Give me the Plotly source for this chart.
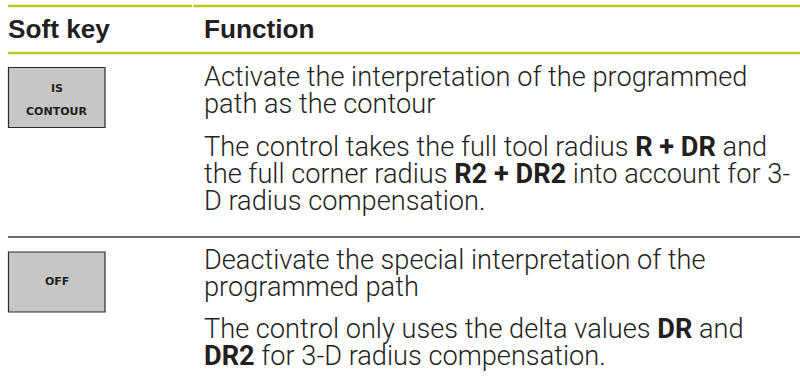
import plotly.graph_objects as go

# ---- table content ----
header_labels = ["Soft key", "Function"]
soft_keys = [["IS", "CONTOUR"], ["OFF"]]
row1_para1 = ["Activate the interpretation of the programmed",
              "path as the contour"]
row1_para2 = ["The control takes the full tool radius <b>R + DR</b> and",
              "the full corner radius <b>R2 + DR2</b> into account for 3-",
              "D radius compensation."]
row2_para1 = ["Deactivate the special interpretation of the",
              "programmed path"]
row2_para2 = ["The control only uses the delta values <b>DR</b> and",
              "<b>DR2</b> for 3-D radius compensation."]

# ---- layout geometry (pixels) ----
W, H = 800, 380
X0, XCOL = 8, 204
GREEN = "#bcc41e"
TXT = "#231f20"
BODY_FONT = dict(family="Roboto", size=27.2, color=TXT, weight=300)
HEAD_FONT = dict(family="Liberation Sans", size=26.2, color=TXT, weight=700)
KEY_FONT = dict(family="DejaVu Sans", size=11, color="#1e1e1e", weight=700)

rows = [
    dict(key=soft_keys[0], key_box=(67.5, 127.5), key_mid=99.8,
         paras=[(row1_para1, 86.7), (row1_para2, 156.7)]),
    dict(key=soft_keys[1], key_box=(252, 312), key_mid=281.5,
         paras=[(row2_para1, 269.3), (row2_para2, 338.3)]),
]
LINE_STEP = 26.6
HEAD_BASE = 37.7
# baseline offset from the centre of the text box (ascent-descent)/2
BODY_K = 0.342
HEAD_K = 0.3465

fig = go.Figure()
fig.add_trace(go.Scatter(x=[0, W], y=[0, H], mode="markers",
                         marker=dict(opacity=0), hoverinfo="skip",
                         showlegend=False))

shapes = []
annotations = []

# header rules
shapes.append(dict(type="line", x0=X0, x1=192, y0=6, y1=6,
                   line=dict(color=GREEN, width=2.5)))
shapes.append(dict(type="line", x0=193.3, x1=W, y0=6, y1=6,
                   line=dict(color=GREEN, width=2.5)))
shapes.append(dict(type="line", x0=X0, x1=W, y0=53, y1=53,
                   line=dict(color=GREEN, width=2.5)))
# row divider
shapes.append(dict(type="line", x0=X0, x1=W, y0=237, y1=237,
                   line=dict(color="#3a3a3a", width=1.3)))

# header text
for label, x in zip(header_labels, [X0, XCOL]):
    annotations.append(dict(x=x, y=HEAD_BASE - HEAD_K * HEAD_FONT["size"],
                            text="<b>%s</b>" % label,
                            xanchor="left", yanchor="middle", showarrow=False,
                            font=HEAD_FONT, xshift=-2))

for r in rows:
    y0, y1 = r["key_box"]
    shapes.append(dict(type="rect", x0=X0 + 0.5, x1=105, y0=y0, y1=y1,
                       fillcolor="#c6c6c4", line=dict(color="#2a2a2a", width=1.2)))
    n = len(r["key"])
    for i, k in enumerate(r["key"]):
        yy = r["key_mid"] + (i - (n - 1) / 2) * 23.4
        annotations.append(dict(x=(X0 + 105) / 2, y=yy, text=k,
                                xanchor="center", yanchor="middle", showarrow=False,
                                font=KEY_FONT))
    for lines, base in r["paras"]:
        for j, line in enumerate(lines):
            b = base + j * LINE_STEP
            annotations.append(dict(x=XCOL, y=b - BODY_K * BODY_FONT["size"],
                                    text=line,
                                    xanchor="left", yanchor="middle", showarrow=False,
                                    font=BODY_FONT, xshift=-2))

fig.update_layout(
    width=W, height=H,
    margin=dict(l=0, r=0, t=0, b=0),
    paper_bgcolor="white", plot_bgcolor="white",
    xaxis=dict(range=[0, W], visible=False, fixedrange=True),
    yaxis=dict(range=[H, 0], visible=False, fixedrange=True),
    shapes=shapes, annotations=annotations,
    showlegend=False,
)

fig.write_html("out.html", config=dict(displayModeBar=False),
               post_script="document.body.style.margin='0';document.body.style.overflow='hidden';")
